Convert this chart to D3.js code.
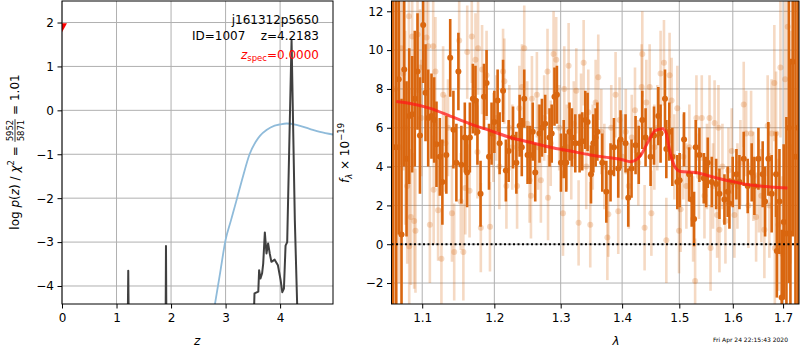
<!DOCTYPE html>
<html><head><meta charset="utf-8">
<script src="https://cdn.jsdelivr.net/npm/d3@7"></script>
<style>
body{margin:0;background:#fff;}
svg text{font-family:"DejaVu Sans",sans-serif;white-space:pre;}
</style></head><body>
<svg id="c" width="800" height="350" xmlns="http://www.w3.org/2000/svg"></svg>
<script>
// ---------- data: left panel (redshift PDF) ----------
const zTicks = [0, 1, 2, 3, 4];
const logpTicks = [-4, -3, -2, -1, 0, 1, 2];
const pzZ = [0, 1.19, 1.205, 1.215, 1.225, 1.24, 1.89, 1.90, 1.907, 1.915, 1.93, 3.50, 3.53, 3.60, 3.615, 3.64, 3.67, 3.69, 3.72, 3.75, 3.78, 3.81, 3.84, 3.90, 3.96, 4.01, 4.04, 4.07, 4.10, 4.13, 4.21, 4.27, 4.31, 4.34, 4.40, 4.97];
const pzLogp = [-8, -8, -5, -3.65, -5, -8, -8, -5, -3.09, -5, -8, -5.5, -4.17, -4.13, -3.64, -3.83, -3.71, -3.49, -2.78, -3.26, -3.03, -3.26, -3.45, -3.40, -3.53, -3.87, -4.14, -4.06, -3.08, -3.0, 1.6, -2.5, -4.3, -5.5, -8, -8];
const priorZ = [2.70, 2.80, 2.90, 3.00, 3.10, 3.20, 3.32, 3.44, 3.55, 3.63, 3.75, 3.90, 4.00, 4.12, 4.30, 4.54, 4.73, 4.97];
const priorLogp = [-5.2, -4.45, -3.7, -2.95, -2.5, -2.05, -1.5, -1.0, -0.72, -0.58, -0.45, -0.35, -0.32, -0.30, -0.33, -0.42, -0.49, -0.55];
const zspecMarker = [0, 1.88];

// ---------- data: right panel (spectrum) ----------
const lamTicks = [1.1, 1.2, 1.3, 1.4, 1.5, 1.6, 1.7];
const fluxTicks = [-2, 0, 2, 4, 6, 8, 10, 12];
// [lambda, flux, error]
const darkPoints = [[1.0622,5.0,10],[1.0661,5.0,9],[1.0693,8.5,8],[1.0729,0.5,7],[1.0764,9.0,5],[1.0794,4.4,4],[1.0829,6.6,3.5],[1.0868,6.7,3],[1.0902,7.5,3.5],[1.0938,8.9,3],[1.0970,5.6,3],[1.1013,11.3,3],[1.1044,7.8,2.5],[1.1080,6.5,2.5],[1.1124,6.6,2.2],[1.1160,6.4,2.2],[1.1191,5.15,2.2],[1.1236,4.5,2.0],[1.1271,3.2,2.2],[1.1325,4.6,2.0],[1.1378,9.6,2.0],[1.1422,5.9,2.0],[1.1463,4.2,2.0],[1.1491,8.9,2.0],[1.1532,4.1,2.0],[1.1580,5.5,1.8],[1.1612,3.7,1.8],[1.1651,5.5,1.8],[1.1693,7.5,1.8],[1.1730,7.4,1.8],[1.1758,5.8,1.7],[1.1802,2.6,1.7],[1.1851,7.6,1.7],[1.1888,8.3,1.7],[1.1923,4.5,1.7],[1.1960,5.7,1.6],[1.2000,6.3,1.6],[1.2048,7.4,1.6],[1.2077,5.2,1.6],[1.2127,7.9,1.6],[1.2168,3.8,1.6],[1.2209,4.8,1.6],[1.2274,5.5,1.6],[1.2323,4.2,1.6],[1.2372,6.1,1.6],[1.2404,5.0,1.5],[1.2441,7.5,1.5],[1.2491,4.6,1.5],[1.2531,4.6,1.5],[1.2569,5.8,1.5],[1.2607,3.7,1.5],[1.2672,5.7,1.5],[1.2709,6.0,1.5],[1.2759,6.2,1.5],[1.2826,5.5,1.5],[1.2860,5.7,1.5],[1.2903,7.6,1.5],[1.2941,7.7,1.5],[1.3004,4.2,1.5],[1.3048,4.9,1.5],[1.3087,4.2,1.5],[1.3139,5.8,1.5],[1.3177,5.5,1.5],[1.3231,5.2,1.5],[1.3300,5.2,1.5],[1.3343,5.3,1.5],[1.3392,6.4,1.5],[1.3429,6.3,1.5],[1.3484,3.6,1.5],[1.3522,5.2,1.5],[1.3560,5.5,1.5],[1.3588,5.8,1.5],[1.3669,4.2,1.5],[1.3736,2.7,1.6],[1.3806,3.7,1.5],[1.3863,5.0,1.5],[1.3935,3.9,1.5],[1.3974,5.4,1.5],[1.4058,5.2,1.5],[1.4104,2.4,1.5],[1.4160,3.9,1.5],[1.4229,5.1,1.5],[1.4284,4.6,1.5],[1.4345,6.4,1.5],[1.4402,5.5,1.5],[1.4489,4.5,1.5],[1.4549,5.6,1.5],[1.4625,6.6,1.5],[1.4665,5.7,1.5],[1.4743,7.5,1.5],[1.4767,4.9,1.5],[1.4820,5.8,1.5],[1.4874,4.5,1.5],[1.4964,3.2,1.4],[1.5006,3.3,1.4],[1.5086,5.4,1.4],[1.5178,3.6,1.4],[1.5226,2.3,1.4],[1.5270,1.3,1.4],[1.5300,5.0,1.4],[1.5368,4.6,1.4],[1.5449,3.4,1.3],[1.5494,3.2,1.3],[1.5524,4.2,1.3],[1.5599,3.2,1.3],[1.5682,3.1,1.3],[1.5744,2.6,1.3],[1.5839,2.3,1.3],[1.5902,2.7,1.3],[1.5935,2.1,1.3],[1.5998,3.2,1.3],[1.6070,3.6,1.3],[1.6128,3.2,1.4],[1.6212,4.4,1.4],[1.6290,3.0,1.4],[1.6369,3.7,1.5],[1.6422,3.0,1.5],[1.6502,4.4,1.6],[1.6587,3.6,1.7],[1.6635,2.2,1.8],[1.6701,4.4,1.9],[1.6768,2.6,2.0],[1.6857,3.6,2.2],[1.6873,-0.35,2.4],[1.6926,2.2,2.7],[1.6972,-2.75,3.5],[1.7013,1.15,4],[1.7069,0.55,6],[1.7120,6.0,8],[1.7152,0.55,9],[1.7199,9.4,9],[1.7256,4.5,10],[1.7308,6.0,12]];
const lightPoints = [[1.0648,8.0,8],[1.0700,5.0,7],[1.0725,10.1,6],[1.0751,8.8,5],[1.0777,6.0,5],[1.0803,3.0,4],[1.0825,11.75,4],[1.0829,-0.1,4],[1.0851,1.4,3.5],[1.0868,10.7,3.5],[1.0894,1.2,3.5],[1.0911,0.7,3.2],[1.0938,10.8,3],[1.0970,9.1,3],[1.0987,6.5,3],[1.1057,10.65,3],[1.1080,10.2,3],[1.1102,1.0,3],[1.1147,10.2,2.8],[1.1153,2.8,2.8],[1.1177,8.9,2.8],[1.1213,1.75,2.6],[1.1258,-0.75,2.6],[1.1281,7.7,2.5],[1.1312,5.2,2.5],[1.1348,6.0,2.5],[1.1402,1.6,2.5],[1.1433,-0.4,2.5],[1.1502,10.5,2.5],[1.1524,2.2,2.5],[1.1560,-0.4,2.5],[1.1587,2.9,2.4],[1.1614,9.9,2.4],[1.1647,2.75,2.4],[1.1678,10.7,2.4],[1.1730,9.5,2.4],[1.1758,4.75,2.4],[1.1767,10.1,2.4],[1.1806,0.85,2.3],[1.1824,9.0,2.3],[1.1888,8.7,2.3],[1.1937,0.9,2.3],[1.1985,5.5,2.3],[1.2029,6.5,2.2],[1.2073,4.0,2.2],[1.2127,8.9,2.2],[1.2146,8.4,2.2],[1.2176,3.0,2.2],[1.2219,6.0,2.2],[1.2263,5.0,2.2],[1.2334,3.0,2.2],[1.2367,7.0,2.2],[1.2407,8.1,2.2],[1.2441,10.1,2.2],[1.2486,6.2,2.2],[1.2521,3.3,2.2],[1.2542,2.5,2.2],[1.2557,7.5,2.2],[1.2632,7.7,2.2],[1.2652,5.0,2.2],[1.2693,3.3,2.2],[1.2744,6.5,2.2],[1.2795,8.9,2.2],[1.2803,2.4,2.2],[1.2845,5.2,2.2],[1.2889,9.8,2.2],[1.2930,9.5,2.2],[1.2977,6.0,2.2],[1.3036,1.6,2.2],[1.3056,8.0,2.2],[1.3096,5.0,2.2],[1.3125,9.2,2.2],[1.3167,4.5,2.2],[1.3207,6.2,2.2],[1.3247,7.9,2.2],[1.3284,1.1,2.2],[1.3323,6.6,2.2],[1.3365,9.35,2.2],[1.3407,4.0,2.2],[1.3440,6.8,2.2],[1.3472,1.0,2.2],[1.3513,5.0,2.2],[1.3560,7.3,2.2],[1.3603,8.6,2.2],[1.3653,5.8,2.2],[1.3703,4.0,2.2],[1.3753,0.35,2.2],[1.3769,1.55,2.2],[1.3818,6.0,2.2],[1.3890,7.7,2.2],[1.3935,1.7,2.2],[1.3957,6.4,2.2],[1.4003,4.5,2.2],[1.4062,5.8,2.2],[1.4113,3.0,2.2],[1.4164,5.5,2.2],[1.4219,6.9,2.2],[1.4276,4.2,2.2],[1.4333,8.1,2.2],[1.4345,9.8,2.2],[1.4385,0.85,2.2],[1.4415,7.3,2.2],[1.4473,8.1,2.2],[1.4503,1.6,2.2],[1.4555,5.0,2.2],[1.4607,6.0,2.2],[1.4665,8.8,2.2],[1.4725,9.35,2.2],[1.4767,0.2,2.2],[1.4825,8.7,2.2],[1.4861,7.4,2.2],[1.4910,4.5,2.2],[1.4964,7.0,2.2],[1.4995,0.7,2.2],[1.5024,1.8,2.2],[1.5073,4.5,2.2],[1.5128,3.0,2.2],[1.5183,5.0,2.2],[1.5252,1.3,2.2],[1.5289,-1.9,2.2],[1.5313,6.5,2.2],[1.5360,3.5,2.2],[1.5412,6.5,2.2],[1.5462,2.5,2.2],[1.5509,4.0,2.2],[1.5557,6.5,2.2],[1.5576,-0.2,2.2],[1.5623,3.0,2.2],[1.5652,6.25,2.2],[1.5700,1.5,2.2],[1.5725,6.0,2.2],[1.5744,0.75,2.2],[1.5801,4.0,2.2],[1.5858,1.2,2.2],[1.5916,3.8,2.2],[1.5979,4.8,2.2],[1.6031,1.5,2.2],[1.6089,3.0,2.2],[1.6147,4.2,2.2],[1.6212,7.2,2.2],[1.6259,5.7,2.2],[1.6304,2.0,2.2],[1.6357,5.7,2.2],[1.6402,3.5,2.3],[1.6456,1.4,2.3],[1.6512,3.0,2.4],[1.6561,2.5,2.4],[1.6621,0.75,2.5],[1.6687,6.1,2.6],[1.6721,2.0,2.7],[1.6768,5.7,2.8],[1.6822,8.3,3.0],[1.6832,-0.2,3.0],[1.6857,5.7,3.2],[1.6905,1.0,3.4],[1.6946,9.1,3.6],[1.6987,-0.5,4.0],[1.7042,8.5,4.5],[1.7096,11.2,5],[1.7152,5.0,6]];
const modelLam = [1.0661,1.0842,1.1107,1.1378,1.1656,1.1941,1.2232,1.2531,1.2837,1.3151,1.3472,1.3801,1.4003,1.4139,1.4310,1.4450,1.4570,1.4700,1.4767,1.4800,1.4856,1.4928,1.5018,1.5294,1.5572,1.5953,1.6343,1.6743,1.7090];
const modelFlux = [7.35,7.25,7.0,6.6,6.2,5.85,5.5,5.25,5.0,4.8,4.6,4.45,4.35,4.25,4.55,5.3,5.85,5.95,5.7,5.2,4.5,3.95,3.75,3.7,3.5,3.25,3.05,2.95,2.9];

const titleLines = ["j161312p5650", "ID=1007    z=4.2183"];
const zspecValue = "0.0000";
const timestamp = "Fri Apr 24 22:15:43 2020";

// ---------- drawing ----------
const svg = d3.select("#c");
const FS = 12;
const ORANGE = "#d9660f";
const GRID = "#b0b0b0";
const minus = d => (d < 0 ? "\u2212" + Math.abs(d) : String(d));

const L = {x0: 62, x1: 333, y0: 1, y1: 304};
const R = {x0: 391.5, x1: 799, y0: 1, y1: 304};

const xL = d3.scaleLinear().domain([0, 4.97]).range([L.x0, L.x1]);
const yL = d3.scaleLinear().domain([-4.41, 2.49]).range([L.y1, L.y0]);
const xR = d3.scaleLog().domain([1.06, 1.733]).range([R.x0, R.x1]);
const yR = d3.scaleLinear().domain([-3.08, 12.53]).range([R.y1, R.y0]);

const defs = svg.append("defs");
function clip(id, A) {
  defs.append("clipPath").attr("id", id).append("rect")
    .attr("x", A.x0).attr("y", A.y0).attr("width", A.x1 - A.x0).attr("height", A.y1 - A.y0);
}
clip("clipL", L); clip("clipR", R);

function grid(A, xs, xt, ys, yt) {
  const g = svg.append("g").attr("stroke", GRID).attr("stroke-width", 1);
  g.selectAll(".gx").data(xt).join("line")
    .attr("x1", d => xs(d)).attr("x2", d => xs(d)).attr("y1", A.y0).attr("y2", A.y1);
  g.selectAll(".gy").data(yt).join("line")
    .attr("y1", d => ys(d)).attr("y2", d => ys(d)).attr("x1", A.x0).attr("x2", A.x1);
}
function axes(A, xs, xt, xf, ys, yt, yf) {
  const gx = svg.append("g").attr("transform", `translate(0,${A.y1})`)
    .call(d3.axisBottom(xs).tickValues(xt).tickFormat(xf).tickSize(4.5).tickPadding(4.5));
  const gy = svg.append("g").attr("transform", `translate(${A.x0},0)`)
    .call(d3.axisLeft(ys).tickValues(yt).tickFormat(yf).tickSize(4.5).tickPadding(3.5));
  [gx, gy].forEach(g => {
    g.select(".domain").remove();
    g.selectAll("text").attr("font-size", FS).attr("font-family", "DejaVu Sans").attr("fill", "#000");
    g.selectAll("line").attr("stroke", "#000");
  });
  svg.append("rect").attr("x", A.x0).attr("y", A.y0).attr("width", A.x1 - A.x0).attr("height", A.y1 - A.y0)
    .attr("fill", "none").attr("stroke", "#000").attr("stroke-width", 1);
}

// ---- left panel ----
grid(L, xL, zTicks, yL, logpTicks);
const gLp = svg.append("g").attr("clip-path", "url(#clipL)");
gLp.append("path").datum(priorZ.map((z, i) => [z, priorLogp[i]]))
  .attr("fill", "none").attr("stroke", "#8fbbda").attr("stroke-width", 1.8)
  .attr("d", d3.line().x(d => xL(d[0])).y(d => yL(d[1])).curve(d3.curveMonotoneX));
gLp.append("path").datum(pzZ.map((z, i) => [z, pzLogp[i]]))
  .attr("fill", "none").attr("stroke", "#404040").attr("stroke-width", 2).attr("stroke-linejoin", "round")
  .attr("d", d3.line().x(d => xL(d[0])).y(d => yL(d[1])));
gLp.append("path")
  .attr("transform", `translate(${xL(zspecMarker[0])},${yL(zspecMarker[1])})`)
  .attr("d", "M-5,-4.5L5,-4.5L0,4.5Z").attr("fill", "red");
axes(L, xL, zTicks, minus, yL, logpTicks, minus);

// annotations
const ax = L.x1 - 14;
svg.append("text").attr("x", ax).attr("y", 23.5).attr("text-anchor", "end").attr("font-size", FS).text(titleLines[0]);
svg.append("text").attr("x", ax).attr("y", 39.5).attr("text-anchor", "end").attr("font-size", FS).text(titleLines[1]);
const zs = svg.append("text").attr("x", ax).attr("y", 58.5).attr("text-anchor", "end").attr("font-size", FS).attr("fill", "red");
zs.append("tspan").attr("font-style", "italic").text("z");
zs.append("tspan").attr("font-size", 8.5).attr("dy", 2.5).text("spec");
zs.append("tspan").attr("dy", -2.5).text("=" + zspecValue);

// axis labels
svg.append("text").attr("x", xL(2.48)).attr("y", 345).attr("text-anchor", "middle").attr("font-size", FS).attr("font-style", "italic").text("z");

// left y label (rotated)
(function () {
  const g = svg.append("g");
  const t1 = g.append("text").attr("font-size", FS).attr("x", 0).attr("y", 0);
  t1.append("tspan").text("log ");
  t1.append("tspan").attr("font-style", "italic").text("p");
  t1.append("tspan").text("(");
  t1.append("tspan").attr("font-style", "italic").text("z");
  t1.append("tspan").text(") / ");
  t1.append("tspan").attr("font-style", "italic").text("\u03c7");
  t1.append("tspan").attr("font-size", 8.5).attr("dy", -5).text("2");
  t1.append("tspan").attr("dy", 5).text(" = ");
  const w1 = t1.node().getComputedTextLength();
  const num = g.append("text").attr("font-size", 8.5).attr("x", w1 + 1).attr("y", -6).text("5952");
  const fw = num.node().getComputedTextLength();
  g.append("text").attr("font-size", 8.5).attr("x", w1 + 1).attr("y", 4.5).text("5871");
  g.append("line").attr("x1", w1 + 0.5).attr("x2", w1 + fw + 1.5).attr("y1", -4).attr("y2", -4).attr("stroke", "#000").attr("stroke-width", 0.8);
  const t3 = g.append("text").attr("font-size", FS).attr("x", w1 + fw + 2).attr("y", 0).text(" = 1.01");
  const total = w1 + fw + 2 + t3.node().getComputedTextLength();
  g.attr("transform", `translate(19,${152 + total / 2}) rotate(-90)`);
})();

// ---- right panel ----
grid(R, xR, lamTicks, yR, fluxTicks);
const gR = svg.append("g").attr("clip-path", "url(#clipR)");
function errorSeries(data, op) {
  const g = gR.append("g");
  g.selectAll("line").data(data).join("line")
    .attr("x1", d => xR(d[0])).attr("x2", d => xR(d[0]))
    .attr("y1", d => yR(d[1] - d[2])).attr("y2", d => yR(d[1] + d[2]))
    .attr("stroke", ORANGE).attr("stroke-width", 2.6).attr("stroke-opacity", op);
  g.selectAll("circle").data(data).join("circle")
    .attr("cx", d => xR(d[0])).attr("cy", d => yR(d[1])).attr("r", 3)
    .attr("fill", ORANGE).attr("fill-opacity", op);
}
errorSeries(lightPoints, 0.25);
errorSeries(darkPoints, 1);
gR.append("path").datum(modelLam.map((l, i) => [l, modelFlux[i]]))
  .attr("fill", "none").attr("stroke", "#ff1a1a").attr("stroke-opacity", 0.75).attr("stroke-width", 3)
  .attr("d", d3.line().x(d => xR(d[0])).y(d => yR(d[1])).curve(d3.curveMonotoneX));
gR.append("line").attr("x1", R.x0).attr("x2", R.x1).attr("y1", yR(0)).attr("y2", yR(0))
  .attr("stroke", "#000").attr("stroke-width", 2).attr("stroke-dasharray", "2,2.5");
axes(R, xR, lamTicks, d3.format(".1f"), yR, fluxTicks, minus);

svg.append("text").attr("x", xR(1.39)).attr("y", 345).attr("text-anchor", "middle").attr("font-size", FS).attr("font-style", "italic").text("\u03bb");

// right y label
(function () {
  const g = svg.append("g");
  const t = g.append("text").attr("font-size", FS).attr("x", 0).attr("y", 0);
  t.append("tspan").attr("font-style", "italic").text("f");
  t.append("tspan").attr("font-size", 8.5).attr("font-style", "italic").attr("dy", 3).text("\u03bb");
  t.append("tspan").attr("dy", -3).text(" \u00d7 10");
  t.append("tspan").attr("font-size", 8.5).attr("dy", -5).text("\u221219");
  const w = t.node().getComputedTextLength();
  g.attr("transform", `translate(349,${153 + w / 2}) rotate(-90)`);
})();

svg.append("text").attr("x", 788).attr("y", 342).attr("text-anchor", "end").attr("font-size", 6).text(timestamp);
</script>
</body></html>
